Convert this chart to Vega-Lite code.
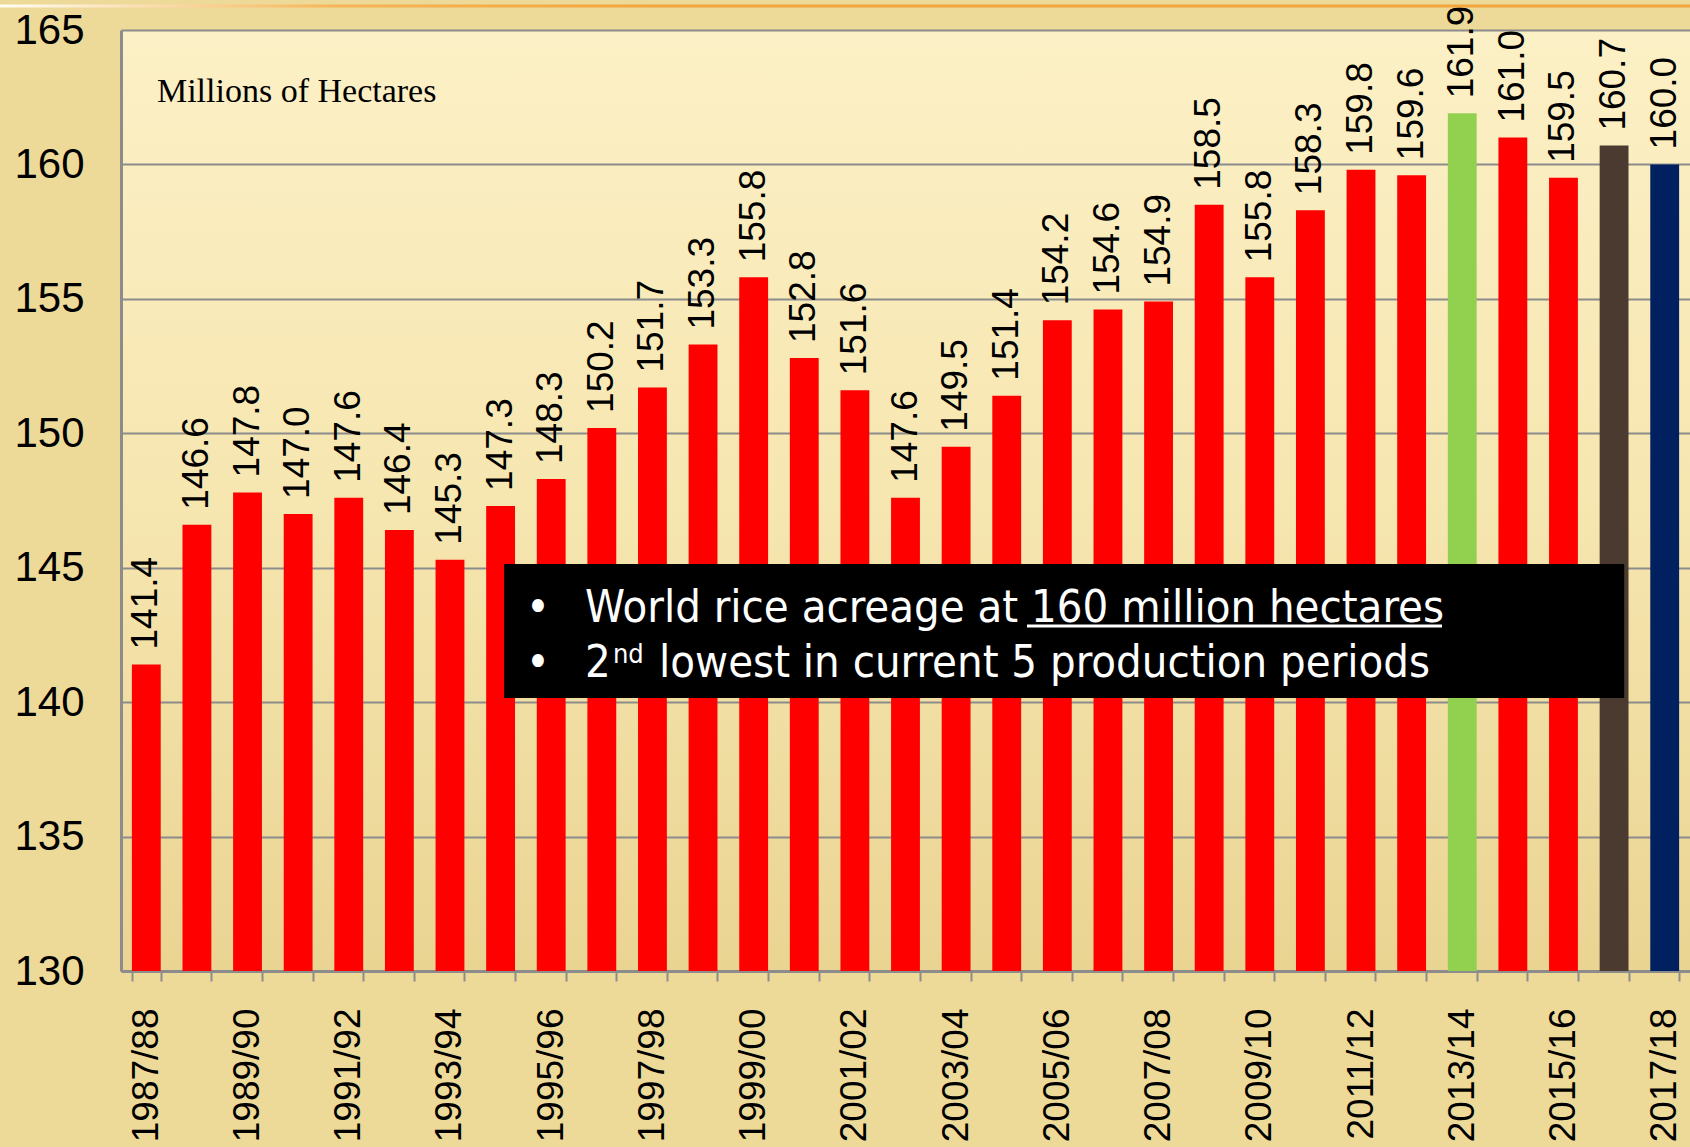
{
  "$schema": "https://vega.github.io/schema/vega-lite/v6.json",
  "width": 1569,
  "height": 941,
  "autosize": "none",
  "padding": {"left": 121, "top": 30, "right": 0, "bottom": 176},
  "background": "#EDD998",
  "config": {
    "view": {"stroke": null, "fill": {"gradient": "linear", "x1": 0, "y1": 0, "x2": 0, "y2": 1, "stops": [{"offset": 0, "color": "#FCF0C6"}, {"offset": 0.5, "color": "#F6E6B0"}, {"offset": 1, "color": "#EAD492"}]}},
    "axisY": {
      "tickCount": 7, "ticks": false, "labelFont": "Liberation Sans", "labelFontSize": 42, "labelColor": "#000000",
      "labelPadding": 37, "grid": true, "gridColor": "#8C8C8C", "gridWidth": 2, "domainColor": "#8C8C8C", "domainWidth": 3
    }
  },
  "datasets": {
    "rice": [
      {"season": "1987/88", "area": 141.4, "kind": "history"},
      {"season": "1988/89", "area": 146.6, "kind": "history"},
      {"season": "1989/90", "area": 147.8, "kind": "history"},
      {"season": "1990/91", "area": 147.0, "kind": "history"},
      {"season": "1991/92", "area": 147.6, "kind": "history"},
      {"season": "1992/93", "area": 146.4, "kind": "history"},
      {"season": "1993/94", "area": 145.3, "kind": "history"},
      {"season": "1994/95", "area": 147.3, "kind": "history"},
      {"season": "1995/96", "area": 148.3, "kind": "history"},
      {"season": "1996/97", "area": 150.2, "kind": "history"},
      {"season": "1997/98", "area": 151.7, "kind": "history"},
      {"season": "1998/99", "area": 153.3, "kind": "history"},
      {"season": "1999/00", "area": 155.8, "kind": "history"},
      {"season": "2000/01", "area": 152.8, "kind": "history"},
      {"season": "2001/02", "area": 151.6, "kind": "history"},
      {"season": "2002/03", "area": 147.6, "kind": "history"},
      {"season": "2003/04", "area": 149.5, "kind": "history"},
      {"season": "2004/05", "area": 151.4, "kind": "history"},
      {"season": "2005/06", "area": 154.2, "kind": "history"},
      {"season": "2006/07", "area": 154.6, "kind": "history"},
      {"season": "2007/08", "area": 154.9, "kind": "history"},
      {"season": "2008/09", "area": 158.5, "kind": "history"},
      {"season": "2009/10", "area": 155.8, "kind": "history"},
      {"season": "2010/11", "area": 158.3, "kind": "history"},
      {"season": "2011/12", "area": 159.8, "kind": "history"},
      {"season": "2012/13", "area": 159.6, "kind": "history"},
      {"season": "2013/14", "area": 161.9, "kind": "record"},
      {"season": "2014/15", "area": 161.0, "kind": "history"},
      {"season": "2015/16", "area": 159.5, "kind": "history"},
      {"season": "2016/17", "area": 160.7, "kind": "previous"},
      {"season": "2017/18", "area": 160.0, "kind": "current"}
    ],
    "topline": [{"u": -2.39, "u2": 31, "v": 165.95, "v2": 165.84}],
    "unit": [{"u": 0.71, "v": 162.32, "label": "Millions of Hectares"}],
    "box": [{"u": 7.57, "u2": 29.70, "v": 145.14, "v2": 140.15}],
    "notes": [
      {"u": 8.0, "v": 142.98, "label": "•"},
      {"u": 9.17, "v": 142.98, "label": "World rice acreage at 160 million hectares"},
      {"u": 8.0, "v": 140.94, "label": "•"},
      {"u": 9.17, "v": 140.94, "label": "2"},
      {"u": 10.63, "v": 140.94, "label": "lowest in current 5 production periods"}
    ],
    "sup": [{"u": 9.72, "v": 141.46, "label": "nd"}],
    "underline": [{"u": 17.9, "u2": 26.1, "v": 142.83}]
  },
  "layer": [
    {
      "data": {"name": "rice"},
      "layer": [
        {
          "mark": {"type": "bar"},
          "encoding": {
            "x": {
              "field": "season", "type": "ordinal", "sort": null,
              "scale": {"paddingInner": 0.43, "paddingOuter": 0.215},
              "axis": {
                "orient": "bottom", "title": null, "labelAngle": -90, "labelFont": "Liberation Sans", "labelFontSize": 37,
                "labelColor": "#000000", "labelPadding": 27, "tickSize": 10, "tickColor": "#8C8C8C", "tickWidth": 2,
                "tickBand": "extent", "domainColor": "#8C8C8C", "domainWidth": 3, "grid": false,
                "labelExpr": "toNumber(substring(datum.value, 0, 4)) % 2 == 1 ? datum.label : ''",
                "labelOverlap": false
              }
            },
            "y": {
              "field": "area", "type": "quantitative", "title": null,
              "scale": {"domain": [130, 165], "nice": false, "zero": false}
            },
            "y2": {"datum": 130},
            "color": {
              "field": "kind", "type": "nominal",
              "scale": {"domain": ["history", "record", "previous", "current"], "range": ["#FF0000", "#92D050", "#4B3A2F", "#002060"]},
              "legend": null
            }
          }
        },
        {
          "mark": {"type": "text", "angle": -90, "align": "left", "baseline": "middle", "dx": 15, "font": "Liberation Sans", "fontSize": 37, "color": "#000000"},
          "encoding": {
            "x": {"field": "season", "type": "ordinal", "sort": null},
            "y": {"field": "area", "type": "quantitative", "title": null},
            "text": {"field": "area", "type": "quantitative", "format": ".1f"}
          }
        }
      ]
    },
    {
      "data": {"name": "topline"},
      "mark": {"type": "rect", "fill": {"gradient": "linear", "x1": 0, "y1": 0, "x2": 1, "y2": 0, "stops": [{"offset": 0, "color": "#FFFDF5"}, {"offset": 0.2, "color": "#F6B456"}, {"offset": 0.4, "color": "#F3A43A"}, {"offset": 1, "color": "#F3A43A"}]}},
      "encoding": {
        "x": {"field": "u", "type": "quantitative", "scale": {"domain": [0, 31], "nice": false, "zero": false}, "axis": null},
        "x2": {"field": "u2"},
        "y": {"field": "v", "type": "quantitative", "title": null},
        "y2": {"field": "v2"}
      }
    },
    {
      "data": {"name": "unit"},
      "mark": {"type": "text", "align": "left", "baseline": "alphabetic", "font": "Liberation Serif", "fontSize": 34, "color": "#000000"},
      "encoding": {
        "x": {"field": "u", "type": "quantitative", "scale": {"domain": [0, 31], "nice": false, "zero": false}, "axis": null},
        "y": {"field": "v", "type": "quantitative", "title": null},
        "text": {"field": "label"}
      }
    },
    {
      "data": {"name": "box"},
      "mark": {"type": "rect", "color": "#000000"},
      "encoding": {
        "x": {"field": "u", "type": "quantitative", "scale": {"domain": [0, 31], "nice": false, "zero": false}, "axis": null},
        "x2": {"field": "u2"},
        "y": {"field": "v", "type": "quantitative", "title": null},
        "y2": {"field": "v2"}
      }
    },
    {
      "data": {"name": "notes"},
      "mark": {"type": "text", "align": "left", "baseline": "alphabetic", "font": "Liberation Sans Narrow, DejaVu Sans Condensed, sans-serif", "fontSize": 45, "color": "#FFFFFF"},
      "encoding": {
        "x": {"field": "u", "type": "quantitative", "scale": {"domain": [0, 31], "nice": false, "zero": false}, "axis": null},
        "y": {"field": "v", "type": "quantitative", "title": null},
        "text": {"field": "label"}
      }
    },
    {
      "data": {"name": "sup"},
      "mark": {"type": "text", "align": "left", "baseline": "alphabetic", "font": "Liberation Sans Narrow, DejaVu Sans Condensed, sans-serif", "fontSize": 27, "color": "#FFFFFF"},
      "encoding": {
        "x": {"field": "u", "type": "quantitative", "scale": {"domain": [0, 31], "nice": false, "zero": false}, "axis": null},
        "y": {"field": "v", "type": "quantitative", "title": null},
        "text": {"field": "label"}
      }
    },
    {
      "data": {"name": "underline"},
      "mark": {"type": "rule", "color": "#FFFFFF", "strokeWidth": 3},
      "encoding": {
        "x": {"field": "u", "type": "quantitative", "scale": {"domain": [0, 31], "nice": false, "zero": false}, "axis": null},
        "x2": {"field": "u2"},
        "y": {"field": "v", "type": "quantitative", "title": null}
      }
    }
  ],
  "resolve": {"scale": {"x": "independent"}, "axis": {"x": "independent"}}
}
